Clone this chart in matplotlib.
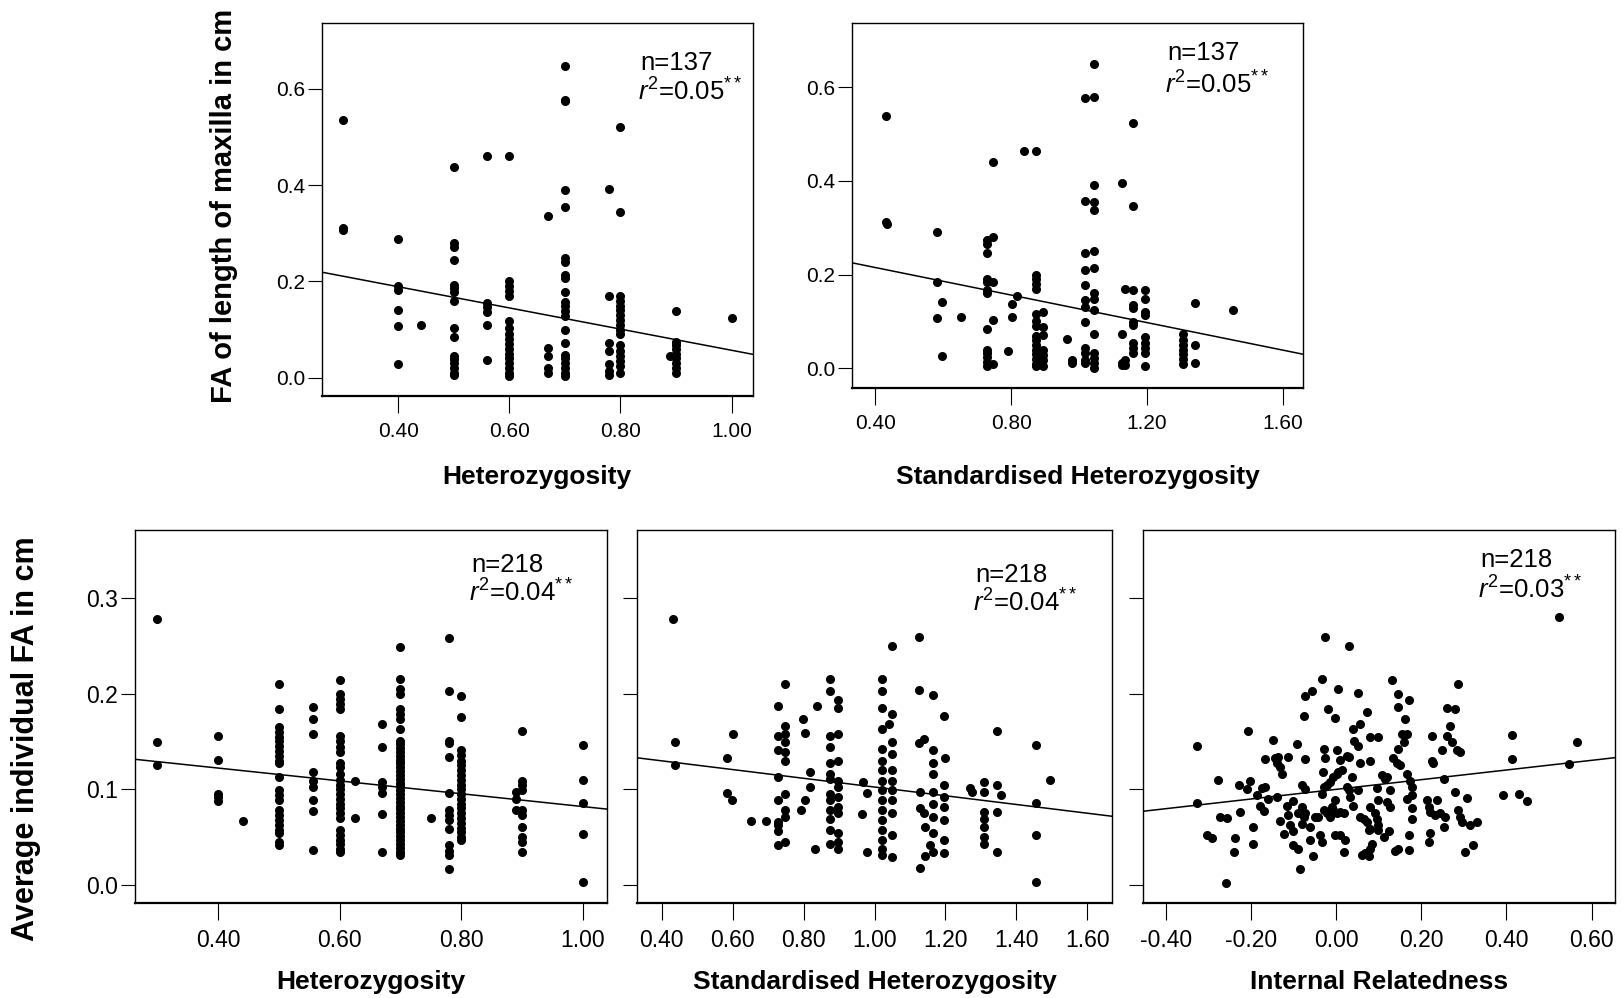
"""
FA vs heterozygosity / internal relatedness, five scatter panels with fitted lines
"""
import numpy as np
import matplotlib
matplotlib.use("Agg")
import matplotlib.pyplot as plt

plt.rcParams['font.family'] = ['Liberation Sans', 'DejaVu Sans']
plt.rcParams['mathtext.fontset'] = 'custom'
plt.rcParams['mathtext.rm'] = 'Liberation Sans'
plt.rcParams['mathtext.it'] = 'Liberation Sans:italic'

# ---- panel A : heterozygosity vs FA of maxilla length ----
het_a = ([0.30]*3 + [0.40]*6 + [0.44] + [0.50]*16 + [0.56]*6 + [0.60]*17 + [0.67]*5
         + [0.70]*22 + [0.78]*7 + [0.80]*17 + [0.89] + [0.90]*9 + [1.00])
fa_a = [0.535, 0.312, 0.307,
        0.288, 0.190, 0.183, 0.141, 0.107, 0.028,
        0.109,
        0.437, 0.279, 0.272, 0.245, 0.193, 0.186, 0.179, 0.160, 0.103, 0.084, 0.045, 0.038, 0.031, 0.021, 0.010, 0.006,
        0.460, 0.155, 0.146, 0.137, 0.109, 0.036,
        0.460, 0.200, 0.190, 0.180, 0.170, 0.117, 0.103, 0.090, 0.080, 0.070, 0.060, 0.050, 0.040, 0.030, 0.020, 0.010, 0.003,
        0.336, 0.062, 0.045, 0.021, 0.010,
        0.648, 0.578, 0.574, 0.389, 0.355, 0.248, 0.241, 0.214, 0.208, 0.178, 0.157, 0.148, 0.138, 0.128, 0.100, 0.072,
        0.048, 0.040, 0.030, 0.020, 0.010, 0.003,
        0.393, 0.170, 0.072, 0.055, 0.028, 0.014, 0.006,
        0.520, 0.345, 0.170, 0.160, 0.150, 0.140, 0.130, 0.120, 0.110, 0.100, 0.090, 0.069, 0.055, 0.045, 0.035, 0.025, 0.010,
        0.045,
        0.139, 0.075, 0.068, 0.060, 0.050, 0.040, 0.030, 0.020, 0.010,
        0.124]
fit_a = [-0.22, 0.277]   # slope, intercept

# ---- panel B : standardised heterozygosity vs FA of maxilla length ----
sh_b = ([0.432, 0.432, 0.435, 0.581, 0.581, 0.581, 0.598, 0.598, 0.653] + [0.729]*13 + [0.746]*5
        + [0.792, 0.802, 0.802, 0.817, 0.838] + [0.872]*16 + [0.895]*7 + [0.964, 0.978, 0.978]
        + [1.018]*12 + [1.044]*15 + [1.126]*4 + [1.135]*3 + [1.160]*10 + [1.194]*9 + [1.307]*7
        + [1.341]*3 + [1.454])
fa_b = [0.538, 0.312, 0.308, 0.290, 0.184, 0.108, 0.142, 0.026, 0.110,
        0.273, 0.266, 0.246, 0.191, 0.184, 0.167, 0.160, 0.083, 0.039, 0.032, 0.025, 0.014, 0.004,
        0.440, 0.280, 0.184, 0.103, 0.009,
        0.037, 0.138, 0.110, 0.154, 0.463,
        0.463, 0.200, 0.190, 0.180, 0.170, 0.117, 0.100, 0.090, 0.070, 0.060, 0.050, 0.040, 0.030, 0.020, 0.010, 0.004,
        0.120, 0.089, 0.071, 0.039, 0.028, 0.018, 0.004,
        0.062, 0.018, 0.011,
        0.577, 0.358, 0.246, 0.210, 0.177, 0.145, 0.131, 0.099, 0.043, 0.032, 0.018, 0.011,
        0.650, 0.579, 0.391, 0.356, 0.337, 0.250, 0.215, 0.160, 0.149, 0.124, 0.073, 0.033, 0.021, 0.011, 0.000,
        0.395, 0.073, 0.011, 0.007,
        0.170, 0.018, 0.007,
        0.523, 0.346, 0.167, 0.135, 0.128, 0.099, 0.092, 0.053, 0.043, 0.032,
        0.168, 0.149, 0.120, 0.113, 0.067, 0.053, 0.043, 0.032, 0.004,
        0.074, 0.060, 0.050, 0.040, 0.030, 0.020, 0.010,
        0.140, 0.050, 0.012,
        0.124]
fit_b = [-0.147, 0.274]

# ---- panel C : heterozygosity vs average individual FA ----
het_c = ([0.30]*3 + [0.40]*5 + [0.44] + [0.50]*23 + [0.556]*9 + [0.60]*27 + [0.625]*2 + [0.67]*7
         + [0.70]*39 + [0.75] + [0.78]*14 + [0.80]*22 + [0.89]*3 + [0.90]*10 + [1.00]*5)
fa_c = [0.278, 0.149, 0.125,
        0.156, 0.131, 0.095, 0.092, 0.088,
        0.067,
        0.210, 0.184, 0.165, 0.160, 0.155, 0.150, 0.145, 0.140, 0.135, 0.130, 0.127, 0.113, 0.099, 0.094, 0.089,
        0.078, 0.073, 0.068, 0.063, 0.058, 0.054, 0.045, 0.042,
        0.186, 0.173, 0.158, 0.118, 0.109, 0.102, 0.089, 0.077, 0.037,
        0.214, 0.200, 0.194, 0.189, 0.184, 0.156, 0.151, 0.144, 0.139, 0.128, 0.123, 0.116, 0.110, 0.105, 0.100,
        0.095, 0.090, 0.085, 0.080, 0.075, 0.070, 0.057, 0.052, 0.047, 0.043, 0.038, 0.035,
        0.109, 0.070,
        0.168, 0.144, 0.108, 0.102, 0.096, 0.074, 0.034,
        0.249, 0.215, 0.205, 0.200, 0.184, 0.179, 0.173, 0.163, 0.151, 0.147, 0.143, 0.139, 0.135, 0.131, 0.127,
        0.123, 0.119, 0.115, 0.111, 0.107, 0.103, 0.099, 0.095, 0.091, 0.087, 0.083, 0.079, 0.075, 0.071, 0.067,
        0.063, 0.059, 0.055, 0.051, 0.047, 0.043, 0.039, 0.035, 0.031,
        0.070,
        0.258, 0.203, 0.151, 0.148, 0.134, 0.096, 0.078, 0.073, 0.068, 0.059, 0.042, 0.036, 0.031, 0.017,
        0.198, 0.176, 0.141, 0.136, 0.130, 0.125, 0.120, 0.115, 0.110, 0.105, 0.100, 0.095, 0.090, 0.085, 0.080,
        0.075, 0.070, 0.065, 0.060, 0.055, 0.050, 0.047,
        0.097, 0.090, 0.078,
        0.161, 0.109, 0.104, 0.099, 0.078, 0.073, 0.061, 0.050, 0.045, 0.035,
        0.146, 0.110, 0.086, 0.053, 0.003]
fit_c = [-0.067, 0.149]

# ---- panel D : standardised heterozygosity vs average individual FA ----
sh_d = ([0.433, 0.437, 0.437, 0.583, 0.583, 0.597, 0.600, 0.653, 0.694] + [0.727]*9 + [0.747]*10
        + [0.797, 0.804, 0.818, 0.818, 0.804, 0.794, 0.832, 0.838] + [0.874]*13 + [0.898]*12
        + [0.968, 0.980, 0.966, 0.980] + [1.020]*16 + [1.048, 1.048, 1.041] + [1.048]*9
        + [1.126, 1.126, 1.140, 1.126, 1.128, 1.128, 1.140, 1.142, 1.128, 1.142] + [1.165]*8 + [1.156, 1.165]
        + [1.195]*7 + [1.198, 1.270, 1.275] + [1.309]*7 + [1.346, 1.346, 1.356, 1.346, 1.346]
        + [1.456]*4 + [1.496])
fa_d = [0.278, 0.149, 0.125, 0.133, 0.096, 0.089, 0.158, 0.067, 0.067,
        0.187, 0.156, 0.141, 0.113, 0.089, 0.066, 0.063, 0.056, 0.042,
        0.210, 0.166, 0.158, 0.149, 0.139, 0.130, 0.095, 0.078, 0.071, 0.045,
        0.174, 0.159, 0.118, 0.102, 0.089, 0.078, 0.038, 0.187,
        0.215, 0.203, 0.156, 0.144, 0.127, 0.116, 0.111, 0.095, 0.089, 0.078, 0.069, 0.057, 0.043,
        0.193, 0.185, 0.158, 0.130, 0.109, 0.102, 0.092, 0.082, 0.075, 0.054, 0.045, 0.038,
        0.108, 0.096, 0.074, 0.034,
        0.215, 0.203, 0.185, 0.163, 0.142, 0.130, 0.120, 0.109, 0.099, 0.089, 0.078, 0.068, 0.057, 0.047, 0.038, 0.031,
        0.250, 0.179, 0.168, 0.149, 0.137, 0.120, 0.109, 0.099, 0.089, 0.075, 0.052, 0.029,
        0.259, 0.204, 0.153, 0.148, 0.097, 0.080, 0.075, 0.061, 0.018, 0.030,
        0.199, 0.141, 0.127, 0.116, 0.097, 0.085, 0.071, 0.054, 0.042, 0.035,
        0.177, 0.104, 0.092, 0.082, 0.068, 0.047, 0.033, 0.133, 0.101, 0.097,
        0.108, 0.097, 0.076, 0.069, 0.061, 0.050, 0.043,
        0.161, 0.104, 0.094, 0.076, 0.034,
        0.146, 0.086, 0.052, 0.003,
        0.110]
fit_d = [-0.0456, 0.148]

# ---- panel E : internal relatedness vs average individual FA ----
ir_e = [-0.328, -0.328, -0.277, -0.273, -0.257, -0.304, -0.293, -0.259, -0.238, -0.240, -0.228, -0.226,
        -0.207, -0.203, -0.210, -0.195, -0.196, -0.187, -0.179, -0.171, -0.175, -0.167, -0.167, -0.148,
        -0.160, -0.140, -0.144, -0.140, -0.132, -0.128, -0.136, -0.113, -0.132, -0.124, -0.116, -0.101,
        -0.113, -0.109, -0.101, -0.101, -0.089, -0.093, -0.085, -0.081, -0.073, -0.081, -0.073, -0.089,
        -0.077, -0.073, -0.081, -0.077, -0.073, -0.058, -0.062, -0.062, -0.054, -0.050, -0.042, -0.038,
        -0.034, -0.034, -0.030, -0.026, -0.032, -0.034, -0.030, -0.022, -0.015, -0.007, 0.001, 0.005,
        0.013, -0.030, -0.022, -0.015, -0.011, -0.007, -0.003, 0.001, 0.009, 0.017, -0.026, -0.019,
        -0.003, -0.003, 0.009, 0.021, 0.017, 0.001, 0.009, 0.025, 0.029, 0.005, 0.025, 0.029,
        0.032, 0.029, 0.036, 0.040, 0.056, 0.042, 0.052, 0.052, 0.056, 0.040, 0.052, 0.056,
        0.064, 0.072, 0.079, 0.076, 0.060, 0.068, 0.076, 0.079, 0.083, 0.072, 0.079, 0.079,
        0.091, 0.095, 0.099, 0.079, 0.099, 0.095, 0.099, 0.111, 0.123, 0.107, 0.115, 0.119,
        0.099, 0.119, 0.126, 0.130, 0.134, 0.142, 0.150, 0.126, 0.138, 0.146, 0.170, 0.146,
        0.146, 0.146, 0.158, 0.154, 0.166, 0.162, 0.172, 0.166, 0.173, 0.177, 0.166, 0.177,
        0.172, 0.177, 0.177, 0.220, 0.217, 0.213, 0.217, 0.220, 0.236, 0.232, 0.244, 0.224,
        0.224, 0.228, 0.248, 0.252, 0.252, 0.256, 0.260, 0.279, 0.260, 0.267, 0.271, 0.283,
        0.291, 0.287, 0.279, 0.287, 0.291, 0.295, 0.303, 0.322, 0.307, 0.315, 0.330, 0.391,
        0.412, 0.412, 0.430, 0.448, 0.524, 0.546, 0.565]
fa_e = [0.145, 0.086, 0.110, 0.071, 0.070, 0.052, 0.049, 0.002, 0.049, 0.035, 0.104, 0.076,
        0.161, 0.109, 0.100, 0.061, 0.043, 0.094, 0.083, 0.077, 0.101, 0.102, 0.132, 0.152,
        0.090, 0.092, 0.133, 0.128, 0.123, 0.116, 0.134, 0.134, 0.067, 0.053, 0.083, 0.088,
        0.073, 0.063, 0.056, 0.042, 0.038, 0.147, 0.017, 0.082, 0.132, 0.104, 0.100, 0.075,
        0.071, 0.075, 0.064, 0.177, 0.198, 0.203, 0.061, 0.047, 0.030, 0.071, 0.071, 0.052,
        0.045, 0.215, 0.142, 0.133, 0.118, 0.095, 0.102, 0.104, 0.108, 0.113, 0.116, 0.118,
        0.120, 0.078, 0.075, 0.071, 0.082, 0.078, 0.089, 0.075, 0.076, 0.075, 0.259, 0.184,
        0.175, 0.052, 0.052, 0.047, 0.035, 0.141, 0.131, 0.135, 0.134, 0.205, 0.102, 0.099,
        0.092, 0.250, 0.113, 0.163, 0.168, 0.151, 0.145, 0.099, 0.127, 0.083, 0.201, 0.071,
        0.069, 0.066, 0.059, 0.057, 0.031, 0.033, 0.030, 0.038, 0.043, 0.181, 0.130, 0.082,
        0.075, 0.069, 0.063, 0.155, 0.155, 0.101, 0.057, 0.050, 0.056, 0.115, 0.111, 0.113,
        0.089, 0.087, 0.082, 0.214, 0.133, 0.128, 0.125, 0.099, 0.036, 0.038, 0.037, 0.200,
        0.186, 0.142, 0.149, 0.158, 0.158, 0.174, 0.193, 0.116, 0.109, 0.102, 0.090, 0.094,
        0.052, 0.080, 0.069, 0.054, 0.045, 0.089, 0.082, 0.076, 0.089, 0.073, 0.075, 0.156,
        0.130, 0.127, 0.141, 0.111, 0.061, 0.071, 0.185, 0.184, 0.156, 0.166, 0.149, 0.141,
        0.139, 0.210, 0.097, 0.078, 0.071, 0.066, 0.035, 0.042, 0.091, 0.063, 0.066, 0.094,
        0.157, 0.132, 0.095, 0.088, 0.280, 0.126, 0.149]
fit_e = [0.0505, 0.100]

stats_top = ["n=137", "n=137"]
r2_top = ["0.05", "0.05"]
stats_bot = ["n=218", "n=218", "n=218"]
r2_bot = ["0.04", "0.04", "0.03"]

fig = plt.figure(figsize=(16.23, 9.98), dpi=100)


def panel(rect, x, y, fit, xlim, ylim, xticks, yticks, n_txt, r2_txt, txt_pos,
          xlabel, xlab_y, ylabels_on=True, fs_tick=15):
    ax = fig.add_axes(rect)
    ax.plot(x, y, 'o', color='black', ms=5.5, mec='black')
    xs = np.array(xlim)
    ax.plot(xs, fit[0]*xs + fit[1], color='black', lw=1.1)
    ax.set_xlim(xlim)
    ax.set_ylim(ylim)
    ax.set_xticks(xticks)
    ax.set_xticklabels(["{:.2f}".format(v) for v in xticks], fontsize=fs_tick)
    ax.set_yticks(yticks)
    if ylabels_on:
        ax.set_yticklabels(["{:.1f}".format(v) for v in yticks], fontsize=fs_tick)
    else:
        ax.set_yticklabels([])
    ax.tick_params(axis='x', direction='out', length=12, width=0.8, pad=7)
    ax.tick_params(axis='y', direction='out', length=10, width=0.8, pad=2)
    for s in ax.spines.values():
        s.set_linewidth(1.0)
    ax.spines['bottom'].set_linewidth(1.6)
    ax.set_xlabel(xlabel, fontsize=19, fontweight='bold')
    ax.xaxis.set_label_coords(0.5, xlab_y)
    ax.text(txt_pos[0], txt_pos[1], n_txt, transform=ax.transAxes, fontsize=18.5,
            va='center', ha='left')
    ax.text(txt_pos[0] - 0.005, txt_pos[2], r'$\mathit{r}^{2}$=' + r2_txt + r'$^{**}$',
            transform=ax.transAxes, fontsize=18.5, va='center', ha='left')
    return ax


axA = panel([0.1982, 1 - 396/998, 431/1623, 373/998], het_a, fa_a, fit_a,
            (0.262, 1.038), (-0.038, 0.737), [0.4, 0.6, 0.8, 1.0], [0.0, 0.2, 0.4, 0.6],
            stats_top[0], r2_top[0], (0.739, 0.893, 0.815), "Heterozygosity", -0.184)
axA.set_ylabel("FA of length of maxilla in cm", fontsize=21, fontweight='bold')
axA.yaxis.set_label_coords(-0.195, 0.51)

axB = panel([851.7/1623, 1 - 388/998, 451.6/1623, 365/998], sh_b, fa_b, fit_b,
            (0.331, 1.66), (-0.042, 0.737), [0.4, 0.8, 1.2, 1.6], [0.0, 0.2, 0.4, 0.6],
            stats_top[1], r2_top[1], (0.698, 0.918, 0.83), "Standardised Heterozygosity", -0.21)

bot_h = 373/998
bot_y = 1 - 903/998
axC = panel([135/1623, bot_y, 472/1623, bot_h], het_c, fa_c, fit_c,
            (0.263, 1.04), (-0.0188, 0.371), [0.4, 0.6, 0.8, 1.0], [0.0, 0.1, 0.2, 0.3],
            stats_bot[0], r2_bot[0], (0.713, 0.906, 0.831), "Heterozygosity", -0.18, fs_tick=16.5)
axC.set_ylabel("Average individual FA in cm", fontsize=22, fontweight='bold')
axC.yaxis.set_label_coords(-0.2, 0.44)

axD = panel([637.3/1623, bot_y, 474.4/1623, bot_h], sh_d, fa_d, fit_d,
            (0.331, 1.669), (-0.0188, 0.371), [0.4, 0.6, 0.8, 1.0, 1.2, 1.4, 1.6], [0.0, 0.1, 0.2, 0.3],
            stats_bot[1], r2_bot[1], (0.712, 0.879, 0.804), "Standardised Heterozygosity", -0.18,
            ylabels_on=False, fs_tick=16.5)

axE = panel([1142.7/1623, bot_y, 472.3/1623, bot_h], ir_e, fa_e, fit_e,
            (-0.455, 0.655), (-0.0188, 0.371), [-0.4, -0.2, 0.0, 0.2, 0.4, 0.6], [0.0, 0.1, 0.2, 0.3],
            stats_bot[2], r2_bot[2], (0.714, 0.92, 0.839), "Internal Relatedness", -0.18,
            ylabels_on=False, fs_tick=16.5)

fig.savefig("out.png", dpi=100)
